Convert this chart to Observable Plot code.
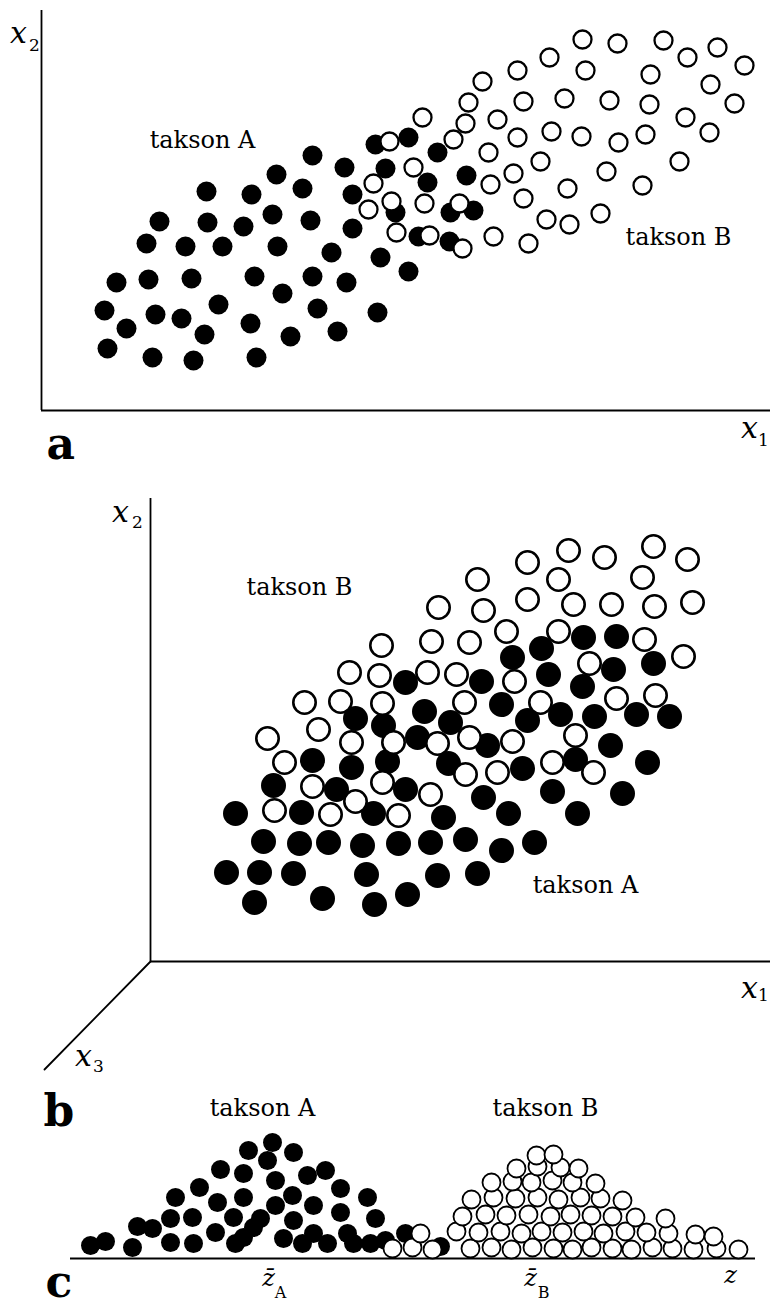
<!DOCTYPE html>
<html>
<head>
<meta charset="utf-8">
<script src="https://cdn.jsdelivr.net/npm/d3@7"></script>
<script src="https://cdn.jsdelivr.net/npm/@observablehq/plot@0.6"></script>
<style>
  body { margin: 0; background: #fff; }
  #fig { width: 772px; }
  #fig svg { display: block; overflow: visible; }
</style>
</head>
<body>
<div id="fig"></div>
<script>
// ---------- Panel a: two taxa in the (x1, x2) plane ----------
const aTaxonA = [
  [334,266],[271,255],[303,243],[344,242],[165,219],[210,216],[235,236],[261,222],[311,216],
  [118,189],[166,188],[202,184],[231,196],[269,190],[311,182],[105,167],[144,164],[181,164],
  [236,164],[290,158],[339,153],[75,128],[107,131],[150,132],[213,134],[271,134],[305,128],
  [241,117],[63,100],[114,96],[140,92],[177,106],[209,87],[276,102],[336,98],[85,82],
  [163,76],[249,74],[296,79],[66,62],[111,53],[152,50],[215,53],[367,139],[354,198],
  [409,198],[432,200],[377,174],[408,169],[367,273],[396,258],[386,228],[425,235]
];
const aTaxonB = [
  [541,371],[576,367],[622,370],[676,363],[646,353],[703,345],[508,353],[544,340],[609,336],
  [476,340],[441,329],[669,326],[427,308],[482,309],[523,312],[568,310],[608,306],[693,307],
  [644,293],[424,287],[456,291],[668,278],[381,293],[476,273],[510,279],[540,274],[577,268],
  [604,276],[412,271],[348,269],[447,258],[499,249],[638,249],[565,239],[372,243],[332,227],
  [472,237],[449,226],[526,222],[601,225],[383,207],[327,201],[350,209],[482,212],[418,207],
  [505,191],[528,186],[559,197],[452,174],[355,178],[388,175],[421,162],[487,167]
];

// ---------- Panel b: two taxa with a third axis x3 ----------
const bTaxonA = [
  [433,324],[466,325],[391,313],[362,304],[503,298],[463,292],[398,287],[331,280],[255,279],
  [432,275],[274,250],[351,257],[300,239],[377,241],[410,247],[444,245],[486,247],[519,245],
  [267,224],[337,216],[460,216],[205,243],[233,236],[298,198],[372,193],[425,202],[497,199],
  [333,164],[402,170],[472,168],[293,144],[358,148],[427,148],[280,119],[315,122],[351,111],
  [384,119],[287,86],[327,88],[162,201],[201,194],[237,200],[123,176],[186,172],[255,172],
  [85,148],[151,149],[223,148],[113,120],[149,118],[178,119],[212,116],[248,118],[76,89],
  [109,89],[143,88],[216,87],[104,59],[172,63],[224,57],[257,67]
];
const bTaxonB = [
  [327,382],[377,399],[418,411],[454,404],[503,415],[537,402],[408,382],[492,384],[288,354],
  [333,351],[377,362],[423,357],[461,357],[504,355],[542,359],[281,320],[319,319],[356,330],
  [408,330],[494,322],[533,305],[277,289],[306,287],[364,280],[439,298],[466,263],[505,266],
  [314,259],[390,259],[231,316],[199,289],[229,286],[154,259],[190,260],[232,258],[168,232],
  [117,223],[201,219],[243,219],[287,218],[134,199],[162,175],[232,179],[280,167],[205,160],
  [124,151],[180,147],[248,146],[319,224],[362,220],[425,226],[402,199],[443,189],[347,189],
  [315,187]
];

// ---------- Panel c: the taxa projected onto the discriminant z ----------
const cTaxonA = [
  [20,13],[35,17],[62,11],[67,32],[82,30],[100,16],[100,40],[105,61],[123,15],[122,41],
  [129,71],[145,26],[147,56],[150,89],[163,41],[165,15],[173,21],[173,61],[173,85],[178,108],
  [183,31],[190,40],[197,98],[202,116],[205,78],[205,53],[213,20],[223,106],[222,63],[223,38],
  [237,83],[243,53],[232,15],[255,88],[243,25],[257,15],[270,70],[270,46],[277,25],[283,15],
  [297,61],[305,40],[300,15],[315,18],[335,25],[370,12]
];
const cTaxonB = [
  [322,10],[342,11],[362,9],[400,10],[421,11],[441,9],[462,11],[483,10],[502,9],[521,11],
  [542,10],[561,9],[582,11],[602,10],[623,9],[646,10],[668,9],
  [350,25],[386,27],[408,26],[430,27],[451,25],[471,27],[492,26],[513,27],[533,25],[555,27],
  [576,26],[598,25],[625,24],[643,22],
  [392,42],[415,44],[436,43],[458,44],[480,42],[500,44],[521,43],[542,42],[565,41],[595,40],
  [401,59],[423,61],[445,60],[467,61],[488,59],[510,61],[530,60],[552,58],
  [421,76],[442,77],[461,76],[482,78],[502,76],[525,75],
  [446,90],[467,92],[490,91],[508,90],
  [466,103],[483,104]
];

// ---------- Text ----------
const serif = "'DejaVu Serif', 'Liberation Serif', 'Times New Roman', Times, serif";
const aTaxonLabels = [{x: 161, y: 270, text: "takson A"}, {x: 637, y: 173, text: "takson B"}];
const bTaxonLabels = [{x: 149, y: 374, text: "takson B"}, {x: 435, y: 76, text: "takson A"}];
const cTaxonLabels = [{x: 192, y: 150, text: "takson A"}, {x: 475, y: 150, text: "takson B"}];

const aVars = [{x: -23, y: 377, text: "x"}, {x: 708, y: -18, text: "x"}];
const aSubs = [{x: -7, y: 365, text: "2"}, {x: 722, y: -30, text: "1"}];
const bVars = [{x: -30, y: 449, text: "x"}, {x: 599, y: -27, text: "x"}, {x: -67, y: -95, text: "x"}];
const bSubs = [{x: -13, y: 439, text: "2"}, {x: 613, y: -34, text: "1"}, {x: -52, y: -105, text: "3"}];
const cVars = [{x: 198, y: -20, text: "z\u0304"}, {x: 460, y: -20, text: "z\u0304"}, {x: 660, y: -17, text: "z"}];
const cSubs = [{x: 210, y: -34, text: "A"}, {x: 473, y: -34, text: "B"}];

const panelLetters = {a: {x: 5, y: -48, text: "a"}, b: {x: -107, y: -164, text: "b"}, c: {x: -25, y: -38, text: "c"}};

// x3 axis direction in panel b (drawn from the origin)
const x3Axis = [[0, 0], [-106, -108]];

// ---------- Helpers ----------
const filled = (data, r) => Plot.dot(data, {x: d => d[0], y: d => d[1], r, fill: "black", stroke: "none"});
const hollow = (data, r, sw) => Plot.dot(data, {x: d => d[0], y: d => d[1], r, fill: "white", stroke: "black", strokeWidth: sw});
const labels = (data, size) => Plot.text(data, {x: "x", y: "y", text: "text", fontSize: size, fontFamily: serif, textAnchor: "middle", lineAnchor: "middle", fill: "black"});
const vars = (data, size) => Plot.text(data, {x: "x", y: "y", text: "text", fontSize: size, fontFamily: serif, fontStyle: "italic", textAnchor: "middle", lineAnchor: "middle", fill: "black"});
const letter = (d) => Plot.text([d], {x: "x", y: "y", text: "text", fontSize: 44, fontWeight: "bold", fontFamily: serif, textAnchor: "start", lineAnchor: "bottom", fill: "black"});

const base = {width: 772, style: {background: "white", overflow: "visible"}};

// Panel a
const plotA = Plot.plot({
  ...base, height: 470,
  marginLeft: 41, marginRight: 2, marginTop: 10, marginBottom: 60,
  x: {domain: [0, 729], axis: null},
  y: {domain: [0, 400], axis: null},
  marks: [
    Plot.ruleX([0], {y1: 0, y2: 400, stroke: "black", strokeWidth: 1.8}),
    Plot.ruleY([0], {x1: 0, x2: 729, stroke: "black", strokeWidth: 1.8}),
    filled(aTaxonA, 10),
    hollow(aTaxonB, 9, 2.3),
    labels(aTaxonLabels, 24),
    vars(aVars, 30),
    labels(aSubs, 17),
    letter(panelLetters.a)
  ]
});

// Panel b
const plotB = Plot.plot({
  ...base, height: 660,
  marginLeft: 150, marginRight: 2, marginTop: 28, marginBottom: 169,
  x: {domain: [0, 620], axis: null},
  y: {domain: [0, 463], axis: null},
  marks: [
    Plot.ruleX([0], {y1: 0, y2: 463, stroke: "black", strokeWidth: 1.8}),
    Plot.ruleY([0], {x1: 0, x2: 620, stroke: "black", strokeWidth: 1.8}),
    Plot.line(x3Axis, {x: d => d[0], y: d => d[1], stroke: "black", strokeWidth: 1.8}),
    filled(bTaxonA, 12.5),
    hollow(bTaxonB, 11.2, 2.6),
    labels(bTaxonLabels, 24),
    vars(bVars, 30),
    labels(bSubs, 17),
    letter(panelLetters.b)
  ]
});

// Panel c
const plotC = Plot.plot({
  ...base, height: 181,
  marginLeft: 70, marginRight: 17, marginTop: 10, marginBottom: 53,
  x: {domain: [0, 685], axis: null},
  y: {domain: [0, 118], axis: null},
  marks: [
    Plot.ruleY([0], {x1: 0, x2: 685, stroke: "black", strokeWidth: 2}),
    filled(cTaxonA, 9.5),
    hollow(cTaxonB, 9, 1.8),
    labels(cTaxonLabels, 24),
    vars(cVars, 24),
    labels(cSubs, 16),
    letter(panelLetters.c)
  ]
});

const fig = document.getElementById("fig");
fig.append(plotA, plotB, plotC);
// apply the serif face directly on every text node
d3.selectAll("#fig svg text").style("font-family", serif);
</script>
</body>
</html>
